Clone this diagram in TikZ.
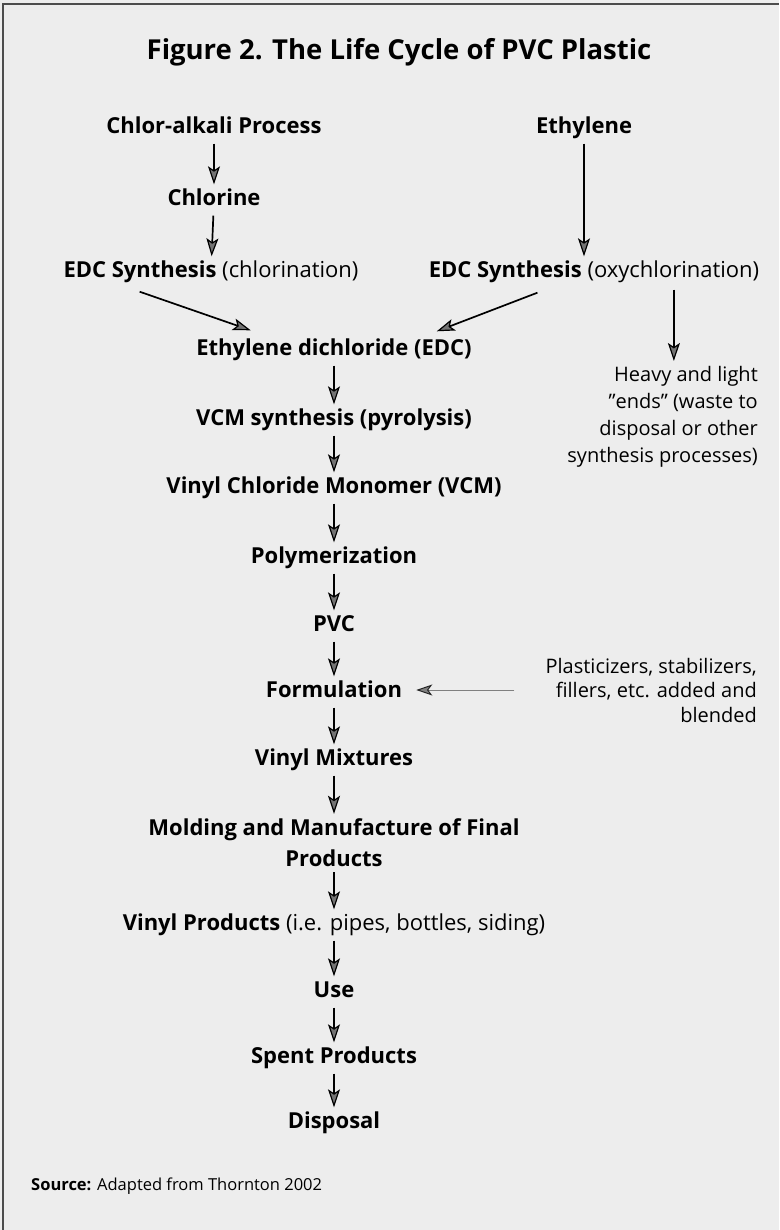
\documentclass[tikz,border=0pt]{standalone}
\usepackage{fontspec}
\setmainfont{Open Sans}
\usetikzlibrary{arrows.meta,calc}
\begin{document}
\begin{tikzpicture}[x=1pt,y=1pt,
  titlesty/.style={font=\fontsize{27.5}{30}\selectfont\bfseries, inner sep=1pt},
  lbl/.style={font=\fontsize{22}{25}\selectfont\bfseries, text height=16pt, text depth=5pt, inner sep=1pt},
  lbltwo/.style={font=\fontsize{22}{31}\selectfont\bfseries, align=center, inner sep=1pt},
  note/.style={font=\fontsize{20}{27}\selectfont, align=right, inner sep=1pt},
  notetwo/.style={font=\fontsize{20}{24.5}\selectfont, align=right, inner sep=1pt},
  src/.style={font=\fontsize{16.5}{19}\selectfont, inner sep=1pt},
  arr/.style={line width=1.7pt, shorten <=4pt, shorten >=4pt,
    -{Stealth[length=18pt,width=12pt,inset=4pt,fill=black!55,line width=1.2pt]}},
  thinarr/.style={line width=0.9pt, draw=black!50,
    -{Stealth[length=16pt,width=11pt,inset=4pt,fill=black!50,color=black!85,line width=1pt]}},
]
\useasboundingbox (0,0) rectangle (779,-1230);
\fill[black!7] (0,0) rectangle (779,-1230);
\draw[line width=1.5pt, black!70] (3,-1230) -- (3,-4) -- (779,-4);

\node[titlesty] (title) at (399,-52) {Figure 2. The Life Cycle of PVC Plastic};

\node[lbl] (chlor) at (214,-128) {Chlor-alkali Process};
\node[lbl] (chlorine) at (214,-200) {Chlorine};
\node[lbl] (edcL) at (211,-272) {EDC Synthesis {\mdseries (chlorination)}};
\node[lbl] (eth) at (584,-128) {Ethylene};
\node[lbl] (edcR) at (594,-272) {EDC Synthesis {\mdseries (oxychlorination)}};

\node[lbl] (edc) at (334,-350) {Ethylene dichloride (EDC)};
\node[lbl] (vcms) at (334,-420) {VCM synthesis (pyrolysis)};
\node[lbl] (vcm) at (334,-488) {Vinyl Chloride Monomer (VCM)};
\node[lbl] (poly) at (334,-558) {Polymerization};
\node[lbl] (pvc) at (334,-626) {PVC};
\node[lbl] (form) at (334,-692) {Formulation};
\node[lbl] (mix) at (334,-760) {Vinyl Mixtures};
\node[lbltwo] (mold) at (334,-843) {Molding and Manufacture of Final\\Products};
\node[lbl] (prod) at (334,-925) {Vinyl Products {\mdseries (i.e. pipes, bottles, siding)}};
\node[lbl] (use) at (334,-992) {Use};
\node[lbl] (spent) at (334,-1058) {Spent Products};
\node[lbl] (disp) at (334,-1123) {Disposal};

\node[note, anchor=north east] (heavy) at (759,-365) {Heavy and light\\”ends” (waste to\\disposal or other\\synthesis processes)};
\node[notetwo, anchor=east] (plast) at (758,-690) {Plasticizers, stabilizers,\\fillers, etc. added and\\blended};

\node[src, anchor=west] (src) at (30,-1186) {\textbf{Source:} Adapted from Thornton 2002};

% left branch
\draw[arr] (chlor) -- (chlorine);
\draw[arr] (chlorine) -- (edcL);
% right branch
\draw[arr] (eth) -- (eth |- edcR.north);
% diagonals
\coordinate (dl1) at ($(edcL.south west)!0.26!(edcL.south east)+(0,-8)$);
\coordinate (dl2) at ($(edc.north west)!0.2!(edc.north east)+(0,8)$);
\draw[arr, shorten <=0pt, shorten >=0pt] (dl1) -- (dl2);
\coordinate (dr1) at ($(edcR.south west)!0.33!(edcR.south east)+(0,-9)$);
\coordinate (dr2) at ($(edc.north west)!0.87!(edc.north east)+(0,7)$);
\draw[arr, shorten <=0pt, shorten >=0pt] (dr1) -- (dr2);
% heavy ends
\coordinate (hs) at ($(edcR.south west)!0.74!(edcR.south east)+(0,-6)$);
\draw[arr, shorten <=0pt] (hs) -- (hs |- heavy.north);

% main column
\draw[arr] (edc) -- (vcms);
\draw[arr] (vcms) -- (vcm);
\draw[arr] (vcm) -- (poly);
\draw[arr] (poly) -- (pvc);
\draw[arr] (pvc) -- (form);
\draw[arr] (form) -- (mix);
\draw[arr] (mix) -- (mold);
\draw[arr] (mold) -- (prod);
\draw[arr] (prod) -- (use);
\draw[arr] (use) -- (spent);
\draw[arr] (spent) -- (disp);

% additives
\coordinate (pa) at ($(plast.west |- form.east)+(-30,2)$);
\draw[thinarr, shorten >=13pt] (pa) -- (pa -| form.east);
\end{tikzpicture}
\end{document}
